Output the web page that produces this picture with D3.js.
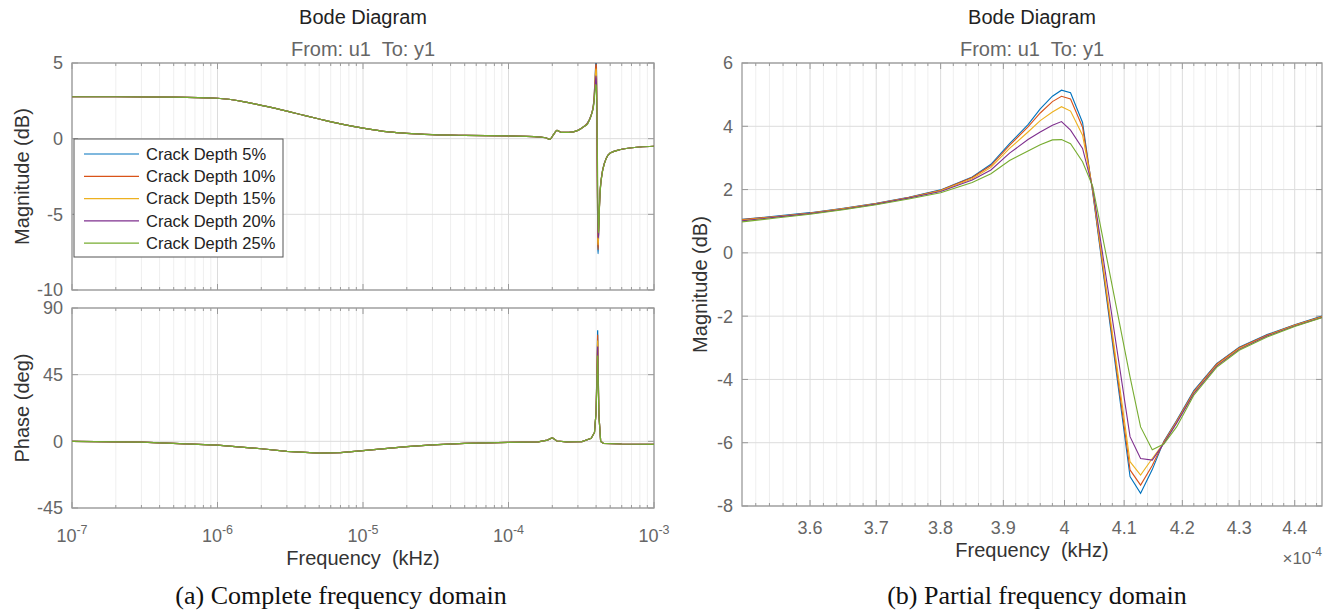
<!DOCTYPE html>
<html>
<head>
<meta charset="utf-8">
<script src="https://cdn.jsdelivr.net/npm/d3@7"></script>
<style>
body { margin: 0; background: #fff; }
svg { display: block; font-family: "Liberation Sans", Arial, sans-serif; }
</style>
</head>
<body>
<div id="canvas"></div>
<script>
// ---- data ----
const seriesNames = ["Crack Depth 5%", "Crack Depth 10%", "Crack Depth 15%", "Crack Depth 20%", "Crack Depth 25%"];
const seriesColors = ["#0072BD", "#D95319", "#EDB120", "#7E2F8E", "#77AC30"];

// (b) partial domain, frequency in units of 1e-4 kHz
const zoomFreq = [3.50, 3.55, 3.60, 3.65, 3.70, 3.75, 3.80, 3.85, 3.88, 3.91, 3.94, 3.96, 3.98, 3.995,
    4.01, 4.03, 4.047, 4.11, 4.128, 4.148, 4.168, 4.19, 4.22, 4.26, 4.30, 4.35, 4.40, 4.45];
const zoomMag5 = [1.06, 1.16, 1.27, 1.41, 1.57, 1.76, 1.99, 2.40, 2.80, 3.45, 4.05, 4.55, 4.95, 5.14,
    5.06, 4.12, 1.90, -7.07, -7.60, -6.85, -5.95, -5.30, -4.35, -3.50, -2.98, -2.58, -2.27, -2.00];
const zoomMag10 = [1.05, 1.15, 1.26, 1.40, 1.56, 1.75, 1.98, 2.38, 2.76, 3.40, 3.98, 4.42, 4.78, 4.95,
    4.86, 3.97, 1.95, -6.86, -7.34, -6.72, -5.97, -5.32, -4.38, -3.52, -3.00, -2.60, -2.28, -2.01];
const zoomMag15 = [1.03, 1.14, 1.25, 1.39, 1.55, 1.74, 1.96, 2.34, 2.70, 3.30, 3.82, 4.18, 4.45, 4.62,
    4.48, 3.72, 2.00, -6.60, -7.02, -6.50, -6.00, -5.35, -4.42, -3.56, -3.03, -2.62, -2.30, -2.03];
const zoomMag20 = [1.01, 1.13, 1.24, 1.38, 1.54, 1.73, 1.94, 2.30, 2.62, 3.15, 3.58, 3.82, 4.03, 4.15,
    3.88, 3.30, 2.05, -5.81, -6.50, -6.55, -6.02, -5.38, -4.45, -3.58, -3.05, -2.63, -2.31, -2.04];
const zoomMag25 = [0.98, 1.10, 1.22, 1.36, 1.52, 1.70, 1.90, 2.22, 2.50, 2.92, 3.22, 3.42, 3.57, 3.58,
    3.45, 2.88, 2.10, -3.92, -5.50, -6.22, -6.04, -5.50, -4.50, -3.62, -3.08, -2.66, -2.33, -2.05];
const zoomMags = [zoomMag5, zoomMag10, zoomMag15, zoomMag20, zoomMag25];

// (a) complete domain, frequency in kHz (outside the resonance window, shared by all depths)
const magFreq = [1e-7, 2e-7, 5e-7, 1e-6, 1.5e-6, 2e-6, 3e-6, 4e-6, 5e-6, 7e-6, 1e-5, 1.5e-5, 2e-5, 3e-5,
    5e-5, 1e-4, 1.5e-4, 1.8e-4, 1.92e-4, 2.05e-4, 2.15e-4, 2.3e-4, 2.6e-4, 3.0e-4, 3.3e-4,
    5e-4, 6e-4, 8e-4, 1e-3];
const magBase = [2.77, 2.77, 2.75, 2.67, 2.45, 2.20, 1.82, 1.52, 1.30, 0.98, 0.70, 0.45, 0.35, 0.27,
    0.22, 0.18, 0.14, 0.06, -0.05, 0.30, 0.55, 0.42, 0.42, 0.55, 0.80,
    -0.95, -0.70, -0.55, -0.50];

const phaseFreq = [1e-7, 3e-7, 1e-6, 2e-6, 3e-6, 5e-6, 7e-6, 1e-5, 2e-5, 3e-5, 5e-5, 1e-4, 1.6e-4,
    1.85e-4, 2e-4, 2.15e-4, 2.5e-4, 3.2e-4, 3.7e-4, 3.9e-4, 4.0e-4, 4.18e-4, 4.3e-4, 4.5e-4, 6e-4, 1e-3];
const phaseBase = [0, -0.5, -2.5, -5.0, -6.8, -8.0, -7.6, -6.3, -3.6, -2.4, -1.4, -0.7, -0.4,
    0.8, 2.4, 0.2, -0.3, -0.2, 2, 6, 20, 18, 0, -1.4, -1.8, -2];
const phaseSpikeFreq = 4.1e-4;
const phaseSpikePeak = [75, 72, 68, 64, 58];

const magTicks = [5, 0, -5, -10];
const phaseTicks = [90, 45, 0, -45];
const zoomYTicks = [6, 4, 2, 0, -2, -4, -6, -8];
const zoomXTicks = [3.6, 3.7, 3.8, 3.9, 4.0, 4.1, 4.2, 4.3, 4.4];

// ---- layout ----
const W = 1333, H = 612;
const svg = d3.select("#canvas").append("svg")
    .attr("width", W)
    .attr("height", H);

const gridMajor = "#dcdcdc", gridMinor = "#efefef", axisCol = "#9a9a9a", tickText = "#666";

const xL = d3.scaleLog().domain([1e-7, 1e-3]).range([72, 654]);
const yMag = d3.scaleLinear().domain([-10, 5]).range([290, 63]);
const yPh = d3.scaleLinear().domain([-45, 90]).range([508, 308]);
const xR = d3.scaleLog().domain([3.5, 4.45]).range([742, 1322]);
const yR = d3.scaleLinear().domain([-8, 6]).range([506, 63]);

const defs = svg.append("defs");

function frame(id, x, y, xMinor, xMajor, yTicks) {
    const [x0, x1] = x.range();
    const [y0, y1] = y.range(); // y0 bottom, y1 top
    const g = svg.append("g");
    defs.append("clipPath").attr("id", id)
        .append("rect").attr("x", x0).attr("y", y1).attr("width", x1 - x0).attr("height", y0 - y1);

    g.selectAll(".vmin").data(xMinor).enter().append("line")
        .attr("x1", d => x(d)).attr("x2", d => x(d))
        .attr("y1", y1).attr("y2", y0)
        .attr("stroke", gridMinor).attr("stroke-width", 1);
    g.selectAll(".vmaj").data(xMajor).enter().append("line")
        .attr("x1", d => x(d)).attr("x2", d => x(d))
        .attr("y1", y1).attr("y2", y0)
        .attr("stroke", gridMajor).attr("stroke-width", 1);
    g.selectAll(".hmaj").data(yTicks).enter().append("line")
        .attr("x1", x0).attr("x2", x1)
        .attr("y1", d => y(d)).attr("y2", d => y(d))
        .attr("stroke", gridMajor).attr("stroke-width", 1);

    // ticks inward on all four sides
    [y0, y1].forEach((yy, i) => {
        const s = i === 0 ? -1 : 1;
        g.selectAll(null).data(xMinor).enter().append("line")
            .attr("x1", d => x(d)).attr("x2", d => x(d))
            .attr("y1", yy).attr("y2", yy + s * 3)
            .attr("stroke", axisCol);
        g.selectAll(null).data(xMajor).enter().append("line")
            .attr("x1", d => x(d)).attr("x2", d => x(d))
            .attr("y1", yy).attr("y2", yy + s * 6)
            .attr("stroke", axisCol);
    });
    [x0, x1].forEach((xx, i) => {
        const s = i === 0 ? 1 : -1;
        g.selectAll(null).data(yTicks).enter().append("line")
            .attr("x1", xx).attr("x2", xx + s * 6)
            .attr("y1", d => y(d)).attr("y2", d => y(d))
            .attr("stroke", axisCol);
    });

    g.append("rect")
        .attr("x", x0).attr("y", y1).attr("width", x1 - x0).attr("height", y0 - y1)
        .attr("fill", "none").attr("stroke", axisCol).attr("stroke-width", 1.3);

    g.selectAll(".ylab").data(yTicks).enter().append("text")
        .attr("x", x0 - 9).attr("y", d => y(d)).attr("dy", "0.36em")
        .attr("text-anchor", "end")
        .style("font-size", "18px").style("fill", tickText)
        .text(d => d);
    return g;
}

// ---- (a) complete domain ----
const decades = [1e-7, 1e-6, 1e-5, 1e-4, 1e-3];
const minorL = xL.ticks().filter(d => !decades.some(m => Math.abs(d / m - 1) < 1e-6));

frame("clipMag", xL, yMag, minorL, decades, magTicks);
frame("clipPh", xL, yPh, minorL, decades, phaseTicks);

const xLab = svg.append("g");
decades.forEach(d => {
    const t = xLab.append("text")
        .attr("x", xL(d)).attr("y", 542)
        .attr("text-anchor", "middle")
        .style("font-size", "18px").style("fill", tickText);
    t.append("tspan").text("10");
    t.append("tspan").attr("dy", -8).style("font-size", "12.5px").text(Math.round(Math.log10(d)));
});

const lineL = d3.line().curve(d3.curveMonotoneX);

seriesNames.forEach((name, i) => {
    // magnitude: shared curve with the resonance window taken from panel (b)
    const pts = [];
    magFreq.forEach((f, j) => { if (f < 3.5e-4) pts.push([f, magBase[j]]); });
    zoomFreq.forEach((f, j) => pts.push([f * 1e-4, zoomMags[i][j]]));
    magFreq.forEach((f, j) => { if (f > 4.45e-4) pts.push([f, magBase[j]]); });
    svg.append("path")
        .attr("clip-path", "url(#clipMag)")
        .attr("d", lineL(pts.map(p => [xL(p[0]), yMag(p[1])])))
        .attr("fill", "none").attr("stroke", seriesColors[i]).attr("stroke-width", 1.2);

    const ph = phaseFreq.map((f, j) => [f, phaseBase[j]]);
    ph.push([phaseSpikeFreq, phaseSpikePeak[i]]);
    ph.sort((a, b) => a[0] - b[0]);
    svg.append("path")
        .attr("clip-path", "url(#clipPh)")
        .attr("d", d3.line()(ph.map(p => [xL(p[0]), yPh(p[1])])))
        .attr("fill", "none").attr("stroke", seriesColors[i]).attr("stroke-width", 1.2);
});

// legend
const leg = svg.append("g");
leg.append("rect")
    .attr("x", 74).attr("y", 139).attr("width", 209).attr("height", 118)
    .attr("fill", "#fff").attr("stroke", "#555").attr("stroke-width", 1);
seriesNames.forEach((name, i) => {
    const yy = 154 + i * 22.3;
    leg.append("line").attr("x1", 84).attr("x2", 139).attr("y1", yy).attr("y2", yy)
        .attr("stroke", seriesColors[i]).attr("stroke-width", 1.2);
    leg.append("text").attr("x", 146).attr("y", yy).attr("dy", "0.35em")
        .style("font-size", "16.5px").style("fill", "#222").text(name);
});

// titles and labels
function titles(cx) {
    svg.append("text").attr("x", cx).attr("y", 24).attr("text-anchor", "middle")
        .style("font-size", "20px").style("fill", "#222").text("Bode Diagram");
    svg.append("text").attr("x", cx).attr("y", 56).attr("text-anchor", "middle")
        .style("font-size", "20px").style("fill", "#666").attr("xml:space", "preserve")
        .text("From: u1  To: y1");
}
function ylabel(x, y, txt) {
    svg.append("text").attr("transform", `translate(${x},${y}) rotate(-90)`)
        .attr("text-anchor", "middle").attr("dy", "0.35em")
        .style("font-size", "20px").style("fill", "#333").text(txt);
}
titles(363);
ylabel(22, 176.5, "Magnitude (dB)");
ylabel(22, 408, "Phase (deg)");
svg.append("text").attr("x", 363).attr("y", 565).attr("text-anchor", "middle")
    .style("font-size", "20px").style("fill", "#333").attr("xml:space", "preserve")
    .text("Frequency  (kHz)");

// ---- (b) partial domain ----
const minorR = d3.range(3.52, 4.45, 0.02).filter(d => !zoomXTicks.some(m => Math.abs(d - m) < 1e-6));
frame("clipR", xR, yR, minorR, zoomXTicks, zoomYTicks);

svg.append("g").selectAll("text").data(zoomXTicks).enter().append("text")
    .attr("x", d => xR(d)).attr("y", 534)
    .attr("text-anchor", "middle")
    .style("font-size", "18px").style("fill", tickText)
    .text(d => d3.format("~g")(d));

const lineR = d3.line().x((d, j) => xR(zoomFreq[j])).y(d => yR(d));
zoomMags.forEach((vals, i) => {
    svg.append("path")
        .attr("clip-path", "url(#clipR)")
        .attr("d", lineR(vals))
        .attr("fill", "none").attr("stroke", seriesColors[i]).attr("stroke-width", 1.1);
});

titles(1032);
ylabel(700, 284.5, "Magnitude (dB)");
svg.append("text").attr("x", 1032).attr("y", 557).attr("text-anchor", "middle")
    .style("font-size", "20px").style("fill", "#333").attr("xml:space", "preserve")
    .text("Frequency  (kHz)");
const ex = svg.append("text").attr("x", 1322).attr("y", 564).attr("text-anchor", "end")
    .style("font-size", "17px").style("fill", tickText);
ex.append("tspan").text("\u00d710");
ex.append("tspan").attr("dy", -8).style("font-size", "12px").text("-4");

// captions
svg.append("text").attr("x", 341).attr("y", 604).attr("text-anchor", "middle")
    .style("font-family", "'Liberation Serif', 'Times New Roman', serif")
    .style("font-size", "26px").style("fill", "#111").text("(a) Complete frequency domain");
svg.append("text").attr("x", 1037).attr("y", 604).attr("text-anchor", "middle")
    .style("font-family", "'Liberation Serif', 'Times New Roman', serif")
    .style("font-size", "26px").style("fill", "#111").text("(b) Partial frequency domain");
</script>
</body>
</html>
